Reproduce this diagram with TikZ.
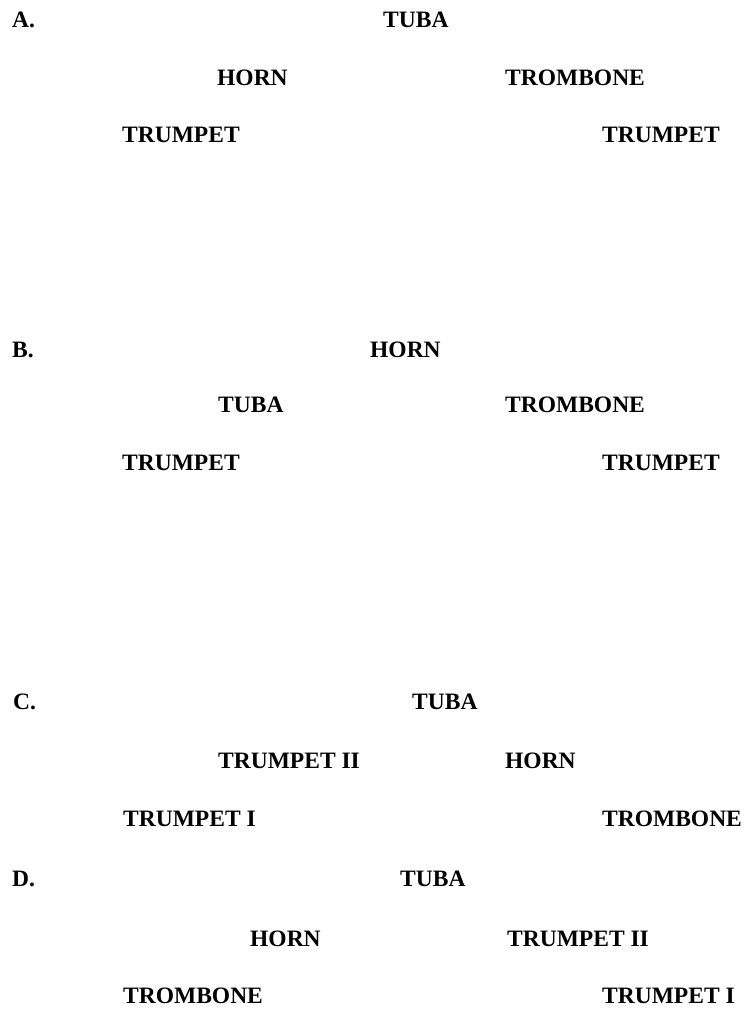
\documentclass[tikz,border=0pt]{standalone}
\usepackage{fontspec}
\setmainfont{Liberation Serif}
\usepackage{tikz}

\begin{document}
\begin{tikzpicture}[x=1pt,y=-1pt,font=\fontsize{23.5}{28}\selectfont\bfseries,
  part/.style={anchor=west,inner sep=0pt}]
\useasboundingbox (0,0) rectangle (749,1010);
% A
\node[part] (labA) at (12,20) {A.};
\node[part] (tubaA) at (383,20) {TUBA};
\node[part] (hornA) at (217,78) {HORN};
\node[part] (tromA) at (505,78) {TROMBONE};
\node[part] (trpAl) at (122,135) {TRUMPET};
\node[part] (trpAr) at (602,135) {TRUMPET};
% B
\node[part] (labB) at (12,350) {B.};
\node[part] (hornB) at (370,350) {HORN};
\node[part] (tubaB) at (218,405) {TUBA};
\node[part] (tromB) at (505,405) {TROMBONE};
\node[part] (trpBl) at (122,463) {TRUMPET};
\node[part] (trpBr) at (602,463) {TRUMPET};
% C
\node[part] (labC) at (13,702) {C.};
\node[part] (tubaC) at (412,702) {TUBA};
\node[part] (trpIIC) at (218,761) {TRUMPET II};
\node[part] (hornC) at (505,761) {HORN};
\node[part] (trpIC) at (123,819) {TRUMPET I};
\node[part] (tromC) at (602,819) {TROMBONE};
% D
\node[part] (labD) at (12,879) {D.};
\node[part] (tubaD) at (400,879) {TUBA};
\node[part] (hornD) at (250,939) {HORN};
\node[part] (trpIID) at (507,939) {TRUMPET II};
\node[part] (tromD) at (123,996) {TROMBONE};
\node[part] (trpID) at (602,996) {TRUMPET I};
\end{tikzpicture}
\end{document}
